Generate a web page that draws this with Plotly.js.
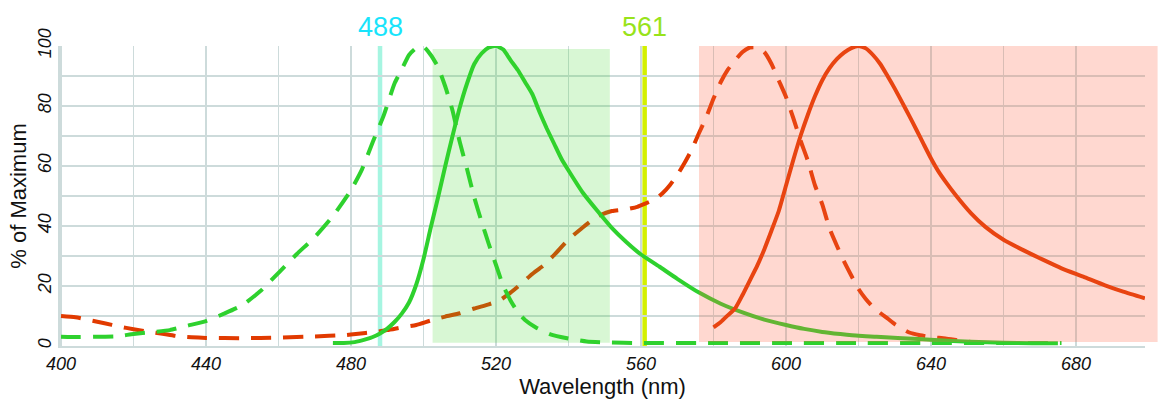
<!DOCTYPE html>
<html>
<head>
<meta charset="utf-8">
<script src="https://cdn.plot.ly/plotly-3.0.1.min.js"></script>
<style>
  html, body { margin: 0; padding: 0; background: #fff; }
  #chart { width: 1161px; height: 401px; }
</style>
</head>
<body>
<div id="chart"></div>
<script>
// Green fluorophore: excitation (dashed) and emission (solid), % of maximum
const greenExNm = [400, 405, 410, 415, 420, 425, 430, 435, 440, 445, 450, 455, 460, 465, 470, 475, 480, 483, 486, 489, 492, 494, 496, 498, 500, 502, 504, 506, 508, 510, 512, 514, 516, 518, 520, 522, 524, 526, 528, 531, 535, 540, 545, 550, 560, 580, 600, 620, 640, 660, 676];
const greenExVal = [3.1, 3.0, 3.1, 3.2, 4.0, 4.6, 5.3, 6.8, 8.3, 10.8, 13.6, 18.3, 24.4, 30.6, 36.3, 43.3, 52, 58.8, 68, 76.8, 87.5, 92.2, 97, 99.3, 99.8, 97, 93, 86.5, 78.5, 68, 59, 49.5, 41.5, 34, 27, 20, 15.2, 11.3, 8.7, 6.2, 3.9, 2.5, 1.5, 1.2, 1.0, 1.0, 1.0, 1.0, 1.0, 1.0, 1.0];

const greenEmNm = [475, 478, 481, 484, 486, 488, 490, 492, 494, 496, 498, 500, 502, 504, 506, 508, 510, 512, 514, 516, 518, 520, 522, 524, 526, 528, 530, 532, 534, 536, 538, 540, 544, 548, 552, 556, 560, 565, 570, 576, 582, 588, 594, 600, 605, 610, 615, 620, 625, 632, 641, 651, 660, 668, 675];
const greenEmVal = [1.0, 1.0, 1.3, 2.2, 3.0, 4.2, 5.8, 8.0, 10.8, 14.5, 20.5, 29, 39.5, 49.5, 60, 70, 79.5, 87.5, 94, 97.5, 99.5, 100, 98.8, 95.3, 92, 88, 84, 78, 72.5, 67.5, 62.5, 58.5, 51, 45, 39.3, 34.6, 30.5, 26.5, 22.4, 17.8, 14.1, 11.2, 8.8, 7.0, 5.7, 4.7, 4.0, 3.4, 3.1, 2.6, 2.0, 1.4, 1.1, 0.9, 0.9];

// Red fluorophore: excitation (dashed) and emission (solid), % of maximum
const redExNm = [400, 404, 408, 412, 416, 420, 424, 428, 432, 436, 440, 450, 460, 470, 478, 482, 486, 490, 494, 498, 502, 506, 510, 514, 518, 521, 524, 527, 530, 533, 536, 540, 544, 548, 552, 556, 559, 561, 564, 566, 568, 570, 572, 574, 576, 578, 580, 582, 584, 586, 588, 590, 592, 594, 596, 598, 600, 602, 604, 606, 608, 610, 612, 614, 616, 618, 620, 622, 624, 626, 628, 630, 632, 634, 637, 640, 644, 648, 652];
const redExVal = [10, 9.6, 8.6, 7.6, 6.5, 5.6, 4.8, 4.1, 3.3, 2.9, 2.7, 2.6, 2.8, 3.2, 3.6, 4.1, 4.6, 5.3, 6.2, 7.0, 8.5, 9.8, 10.9, 12.5, 13.9, 15.2, 17.8, 20.8, 24, 26.8, 30.3, 35.5, 39.6, 43.2, 45, 45.6, 46.4, 47.4, 49, 51, 53.7, 57, 61, 65.5, 71, 76.3, 82.5, 88, 92.2, 95.3, 98, 99.5, 99.5, 98, 94, 88.5, 83, 76, 68.5, 61.8, 53.5, 47.2, 39.2, 33.5, 28.2, 23.5, 19, 15.7, 13, 11, 9.2, 7.3, 5.8, 4.5, 3.6, 3.0, 2.5, 1.8, 1.2];

const redEmNm = [580, 582, 584, 586, 588, 590, 592, 594, 596, 598, 600, 602, 604, 606, 608, 610, 612, 614, 616, 618, 620, 622, 624, 626, 628, 630, 632, 634, 636, 638, 640, 642, 644, 647, 651, 655, 660, 665, 671, 676, 682, 688, 693, 699];
const redEmVal = [6.2, 8.0, 10.3, 12.6, 17, 21.8, 26.6, 32.2, 38.5, 45, 53.5, 62, 70, 77, 83.3, 88.6, 92.6, 95.6, 97.8, 99.3, 100, 99.2, 97, 94, 90, 85.8, 81.3, 76.7, 72, 67.2, 62.5, 58.3, 54.8, 50, 44.3, 39.7, 35.4, 32.2, 28.7, 25.9, 23.1, 20.2, 18.1, 15.9];

// Laser lines and detection bands
const laserNm = [488, 561];
const laserLabels = ['488', '561'];
const laserLabelColors = ['#18e4fb', '#98e31a'];
const laserLineColors = ['#a6f5e1', '#d3f000'];
const greenBand = [502.5, 551.4];
const greenBandY = [1.1, 99];
const redBand = [576, 702.5];
const redBandY = [1.3, 100];

const xRange = [399.72, 699.03];
const yRange = [0, 100];
const toPaperX = v => (v - xRange[0]) / (xRange[1] - xRange[0]);
const toPaperY = v => (v - yRange[0]) / (yRange[1] - yRange[0]);

const GREEN = '#2ed12e';
const RED = '#e13a00';
const GRID = '#cddbdb';
const FONT = '"Liberation Sans", Arial, Helvetica, sans-serif';
const DASH = '20px,12px';

function curve(x, y, color, dash) {
  return {
    x: x, y: y, type: 'scatter', mode: 'lines',
    line: { color: color, width: 4, dash: dash, shape: 'spline', smoothing: 0.5 },
    hoverinfo: 'skip', showlegend: false
  };
}

const traces = [
  curve(redExNm, redExVal, RED, DASH),
  curve(greenExNm, greenExVal, GREEN, DASH),
  curve(greenEmNm, greenEmVal, GREEN, 'solid'),
  curve(redEmNm, redEmVal, RED, 'solid')
];

const shapes = [];
laserNm.forEach((nm, i) => {
  shapes.push({
    type: 'line', xref: 'x', yref: 'y', x0: nm, x1: nm, y0: yRange[0], y1: yRange[1],
    line: { color: laserLineColors[i], width: 4.5 }, layer: 'below'
  });
});
shapes.push({
  type: 'rect', xref: 'x', yref: 'y',
  x0: greenBand[0], x1: greenBand[1], y0: greenBandY[0], y1: greenBandY[1],
  fillcolor: 'rgb(60,215,40)', opacity: 0.2, line: { width: 0 }, layer: 'above'
});
shapes.push({
  type: 'rect', xref: 'paper', yref: 'paper',
  x0: toPaperX(redBand[0]), x1: toPaperX(redBand[1]),
  y0: toPaperY(redBandY[0]), y1: toPaperY(redBandY[1]),
  fillcolor: 'rgb(255,99,67)', opacity: 0.25, line: { width: 0 }, layer: 'above'
});

const annotations = laserNm.map((nm, i) => ({
  x: nm, xref: 'x', y: 1, yref: 'paper', yanchor: 'middle', yshift: 19,
  text: laserLabels[i], showarrow: false,
  font: { family: FONT, size: 27, color: laserLabelColors[i] }
}));

const tickFont = { family: FONT, size: 18, color: '#111', style: 'italic' };

const layout = {
  width: 1161, height: 401,
  margin: { l: 60, r: 16, t: 46, b: 55 },
  paper_bgcolor: '#fff', plot_bgcolor: '#fff',
  showlegend: false,
  hovermode: false,
  xaxis: {
    range: xRange, tick0: 400, dtick: 40,
    showgrid: true, gridcolor: GRID, gridwidth: 1.6,
    minor: { tick0: 400, dtick: 20, showgrid: true, gridcolor: GRID, gridwidth: 1.6 },
    showline: true, linecolor: GRID, linewidth: 2,
    zeroline: false, ticks: '',
    tickfont: tickFont,
    title: { text: 'Wavelength (nm)', font: { family: FONT, size: 22, color: '#111' }, standoff: 6 }
  },
  yaxis: {
    range: yRange, tick0: 0, dtick: 20,
    showgrid: true, gridcolor: GRID, gridwidth: 1.6,
    minor: { tick0: 0, dtick: 10, showgrid: true, gridcolor: GRID, gridwidth: 1.6 },
    showline: true, linecolor: GRID, linewidth: 2,
    zeroline: false, ticks: '', tickangle: -90,
    tickfont: tickFont,
    title: { text: '% of Maximum', font: { family: FONT, size: 22, color: '#111' }, standoff: 2 }
  },
  shapes: shapes,
  annotations: annotations
};

Plotly.newPlot('chart', traces, layout, { displayModeBar: false, staticPlot: true });
</script>
</body>
</html>
